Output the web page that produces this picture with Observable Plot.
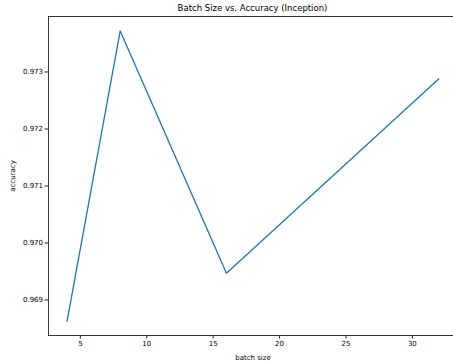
<!DOCTYPE html>
<html>
<head>
<meta charset="utf-8">
<script src="https://cdn.jsdelivr.net/npm/d3@7"></script>
<script src="https://cdn.jsdelivr.net/npm/@observablehq/plot@0.6"></script>
<style>
  html, body { margin: 0; padding: 0; background: #fff; overflow: hidden; width: 453px; height: 362px; }
  #title { height: 15px; line-height: 16px; font-family: "DejaVu Sans", sans-serif; font-size: 8.5px; color: #000; text-align: center; width: 505px; }
  #chart { width: 457px; }
  #chart svg { display: block; max-width: none !important; }
</style>
</head>
<body>
<div id="title">Batch Size vs. Accuracy (Inception)</div>
<div id="chart"></div>
<script>
const batchSizes = [4, 8, 16, 32];
const accuracies = [0.96863, 0.97372, 0.96947, 0.97288];
const xTicks = [5, 10, 15, 20, 25, 30];
const yTicks = [0.969, 0.970, 0.971, 0.972, 0.973];

const data = batchSizes.map((b, i) => ({batch: b, acc: accuracies[i]}));

const chart = Plot.plot({
  width: 457,
  height: 347,
  marginTop: 1,
  marginBottom: 27,
  marginLeft: 48,
  marginRight: 0,
  style: {fontFamily: "DejaVu Sans, sans-serif", fontSize: "7px", color: "#000", background: "#fff", maxWidth: "none"},
  x: {domain: [2.6, 33.4]},
  y: {domain: [0.968376, 0.973974]},
  marks: [
    Plot.frame({stroke: "#222", strokeWidth: 0.9}),
    Plot.axisX({ticks: xTicks, tickSize: 3.5, tickPadding: 2, fontSize: 7, stroke: "#222", label: "batch size", labelAnchor: "center", labelArrow: "none", labelOffset: 24}),
    Plot.axisY({ticks: yTicks, tickSize: 3.5, tickPadding: 2, fontSize: 7, tickFormat: d3.format(".3f"), stroke: "#222", label: "accuracy", labelAnchor: "center", labelArrow: "none", labelOffset: 38}),
    Plot.line(data, {x: "batch", y: "acc", stroke: "#1f77b4", strokeWidth: 1.3})
  ]
});
document.getElementById("chart").appendChild(chart);
</script>
</body>
</html>
